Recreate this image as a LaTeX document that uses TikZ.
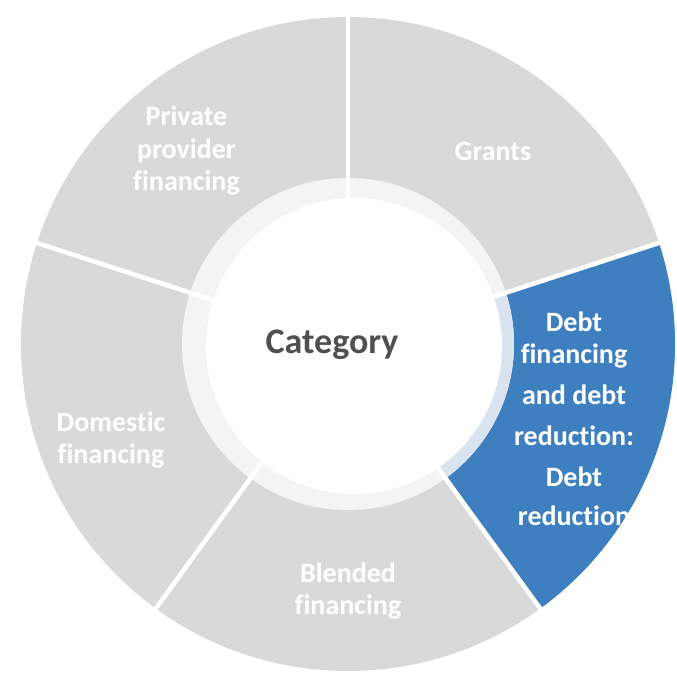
\documentclass[tikz,border=0pt]{standalone}
\usepackage{fontspec}
\setmainfont{Carlito}[Ligatures=NoCommon]
\definecolor{colSeg}{RGB}{217,217,217}
\definecolor{colRing}{RGB}{244,244,244}
\definecolor{colBlue}{RGB}{62,128,191}
\definecolor{colBlueRing}{RGB}{218,227,240}
\definecolor{colText}{RGB}{80,80,80}
\begin{document}
\begin{tikzpicture}[x=1pt, y=1pt,
    lbl/.style={align=center, text=white, inner sep=0pt,
      font=\fontsize{28}{32.5}\selectfont\bfseries},
    ctr/.style={text=colText, inner sep=0pt,
      font=\fontsize{36}{40}\selectfont\bfseries},
    sep/.style={white, line width=4.5pt}]
  \useasboundingbox (-348,-328) rectangle (329,344);
  \fill[colSeg] (0,0) circle (327);
  \fill[colBlue] (0,0) -- (-54:327) arc[start angle=-54, end angle=18,
    radius=327] -- cycle;
  \fill[colRing] (0,0) circle (166);
  \fill[colBlueRing] (0,0) -- (-54:166) arc[start angle=-54, end angle=18,
    radius=166] -- cycle;
  \fill[white] (6,-2) circle (148);
  \draw[sep] (90:140) -- (90:335);
  \draw[sep] (18:140) -- (18:335);
  \draw[sep] (-54:140) -- (-54:335);
  \draw[sep] (-126:140) -- (-126:335);
  \draw[sep] (162:140) -- (162:335);
  \node[ctr] (cat) at (-16,-1) {Category};
  \node[lbl] (grants) at (145,193) {Grants};
  \node[lbl] (priv) at (-161.5,193) {Private\\provider\\financing};
  \node[lbl] (dom) at (-237,-96) {Domestic\\financing};
  \node[lbl] (blend) at (0,-247) {Blended\\financing};
  \node[lbl] (debt) at (226,-75)
    {Debt\\financing\\[8.5pt]and debt\\[8.5pt]reduction:\\[8.5pt]Debt\\[6.5pt]reduction};
\end{tikzpicture}
\end{document}
